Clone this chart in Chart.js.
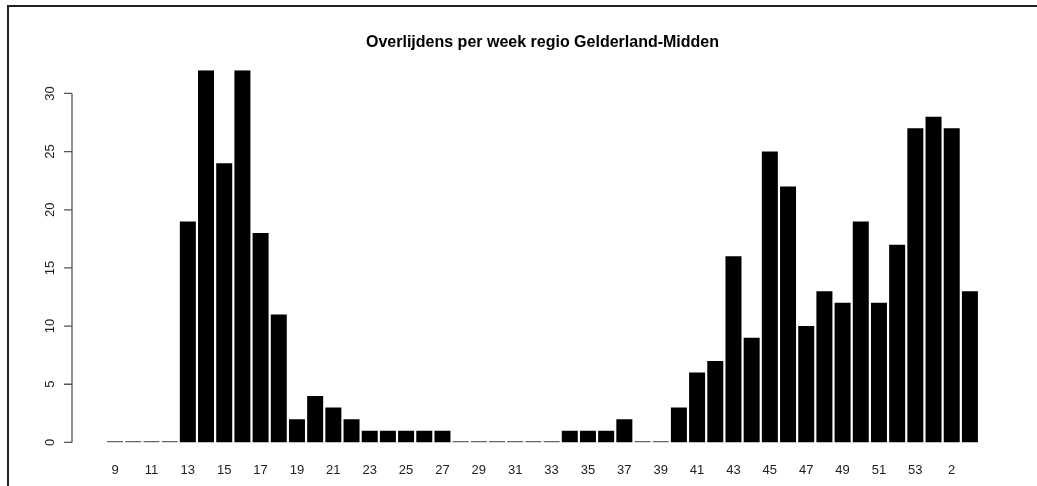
<!DOCTYPE html>
<html>
<head>
<meta charset="utf-8">
<script src="https://cdn.jsdelivr.net/npm/chart.js@4.4.0/dist/chart.umd.min.js"></script>
<style>
  html, body { margin: 0; padding: 0; background: #fff; }
  #wrap { width: 1037px; height: 486px; position: relative; }
</style>
</head>
<body>
<div id="wrap"><canvas id="deaths-chart"></canvas></div>
<script>
// weeks 9..53 of 2020, then 1..3 of 2021
const weeks = [9, 10, 11, 12, 13, 14, 15, 16, 17, 18, 19, 20, 21, 22, 23, 24, 25, 26, 27, 28,
  29, 30, 31, 32, 33, 34, 35, 36, 37, 38, 39, 40, 41, 42, 43, 44, 45, 46, 47, 48,
  49, 50, 51, 52, 53, 1, 2, 3];
const deaths = [0, 0, 0, 0, 19, 32, 24, 32, 18, 11, 2, 4, 3, 2, 1, 1, 1, 1, 1, 0,
  0, 0, 0, 0, 0, 1, 1, 1, 2, 0, 0, 3, 6, 7, 16, 9, 25, 22, 10, 13,
  12, 19, 12, 17, 27, 28, 27, 13];
const yTicks = [0, 5, 10, 15, 20, 25, 30];

const FONT = '"Liberation Sans", Arial, sans-serif';

// R style y axis: line only from first to last tick, rotated labels
const rAxis = {
  id: 'rAxis',
  afterDraw(chart) {
    const ctx = chart.ctx;
    const y = chart.scales.y;
    const axX = 72;
    ctx.save();
    ctx.strokeStyle = '#555';
    ctx.lineWidth = 1.3;
    ctx.beginPath();
    ctx.moveTo(axX, y.getPixelForValue(yTicks[0]));
    ctx.lineTo(axX, y.getPixelForValue(yTicks[yTicks.length - 1]));
    yTicks.forEach(t => {
      const py = y.getPixelForValue(t);
      ctx.moveTo(axX, py);
      ctx.lineTo(64, py);
    });
    ctx.stroke();
    ctx.fillStyle = '#222';
    ctx.font = '13px ' + FONT;
    ctx.textAlign = 'center';
    ctx.textBaseline = 'middle';
    yTicks.forEach(t => {
      ctx.save();
      ctx.translate(50, y.getPixelForValue(t));
      ctx.rotate(-Math.PI / 2);
      ctx.fillText(String(t), 0, 0);
      ctx.restore();
    });
    ctx.restore();
  },
  beforeDraw(chart) {
    // screenshot frame (top and left edge)
    const ctx = chart.ctx;
    ctx.save();
    ctx.fillStyle = '#222';
    ctx.fillRect(7, 5, chart.width - 7, 2);
    ctx.fillRect(7, 5, 2, chart.height - 5);
    ctx.restore();
  }
};

new Chart(document.getElementById('deaths-chart'), {
  type: 'bar',
  data: {
    labels: weeks.map(String),
    datasets: [{
      data: deaths,
      backgroundColor: deaths.map(v => v === 0 ? '#666' : '#000'),
      borderWidth: 0,
      barPercentage: 0.88,
      categoryPercentage: 1,
      minBarLength: 1.5
    }]
  },
  options: {
    responsive: true,
    maintainAspectRatio: false,
    animation: false,
    layout: { padding: { left: 106, right: 58, top: 0, bottom: -12 } },
    plugins: {
      legend: { display: false },
      tooltip: { enabled: false },
      title: {
        display: true,
        text: 'Overlijdens per week regio Gelderland-Midden',
        color: '#000',
        font: { family: FONT, size: 16, weight: 'bold' },
        padding: { top: 33, bottom: 18 }
      }
    },
    scales: {
      x: {
        offset: true,
        grid: { display: false, drawTicks: false },
        border: { display: false },
        ticks: {
          autoSkip: false,
          maxRotation: 0,
          minRotation: 0,
          color: '#222',
          padding: 20,
          font: { family: FONT, size: 13 },
          callback: (val, i) => i % 2 === 0 ? weeks[i] : ''
        }
      },
      y: {
        display: false,
        min: 0,
        max: 32
      }
    }
  },
  plugins: [rAxis]
});
</script>
</body>
</html>
